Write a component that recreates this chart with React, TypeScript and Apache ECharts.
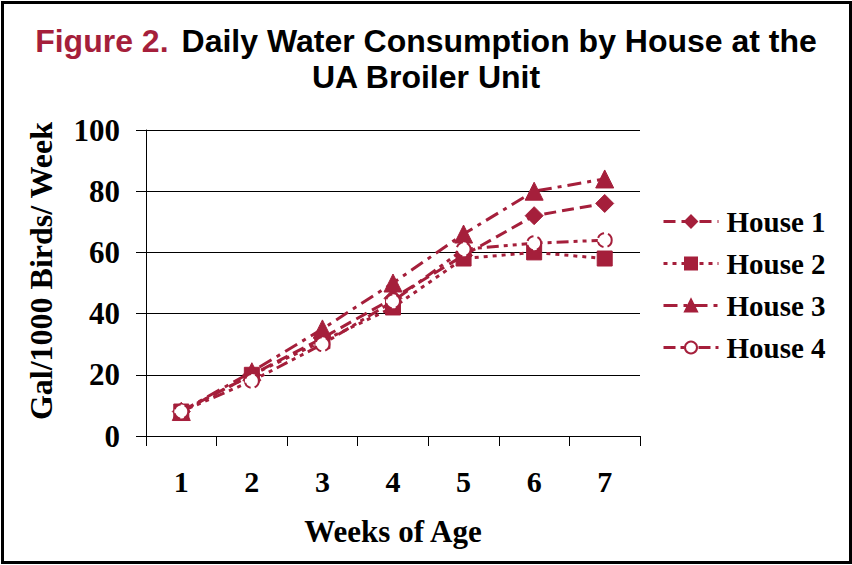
import React, { useEffect, useRef } from "react";
import * as echarts from "echarts";

const weeks = ["1", "2", "3", "4", "5", "6", "7"];
const house1 = [8, 20, 32, 45, 59, 72, 76];
const house2 = [8, 20, 31, 42, 58, 60, 58];
const house3 = [8, 21, 35, 50, 66, 80, 84];
const house4 = [8, 18, 30, 44, 61, 63, 64];
const seriesNames = ["House 1", "House 2", "House 3", "House 4"];
const titleLine1a = "Figure 2.";
const titleLine1b = "Daily Water Consumption by House at the";
const titleLine2 = "UA Broiler Unit";

const RED = "#A51F3B";
const SERIF = "'Liberation Serif', 'Times New Roman', serif";
const SANS = "'Liberation Sans', Arial, sans-serif";

export default function App() {
  const ref = useRef<HTMLDivElement>(null);
  useEffect(() => {
    if (!ref.current) return;
    const chart = echarts.init(ref.current, undefined, { renderer: "svg" });
    const mk = (name: string, data: number[], symbol: string, dash: number[], size: number, extra: any = {}) => ({
      name,
      type: "line",
      data,
      symbol,
      symbolSize: size,
      lineStyle: { color: RED, width: 3, type: dash },
      itemStyle: { color: RED, borderColor: RED, borderWidth: 1, ...extra },
    });
    chart.setOption({
      animation: false,
      backgroundColor: "#ffffff",
      title: [
        {
          text: `{a|${titleLine1a}} {b|${titleLine1b}}`,
          left: "center",
          top: 25,
          padding: 0,
          textStyle: {
            rich: {
              a: { color: RED, fontFamily: SANS, fontWeight: "bold", fontSize: 32, padding: [0, 8, 0, 0] },
              b: { color: "#000", fontFamily: SANS, fontWeight: "bold", fontSize: 32 },
            },
          },
        },
        {
          text: titleLine2,
          left: "center",
          top: 61,
          padding: 0,
          textStyle: { color: "#000", fontFamily: SANS, fontWeight: "bold", fontSize: 32 },
        },
      ],
      graphic: [
        {
          type: "rect",
          shape: { x: 2.5, y: 2.5, width: 848, height: 560 },
          style: { fill: "none", stroke: "#000", lineWidth: 3 },
          silent: true,
        },
      ],
      grid: { left: 146, top: 130, width: 494, height: 306, containLabel: false },
      legend: {
        orient: "vertical",
        left: 662,
        top: 207,
        padding: 0,
        itemWidth: 55,
        itemHeight: 15,
        itemGap: 13,
        data: seriesNames,
        lineStyle: { width: 3 },
        textStyle: { fontFamily: SERIF, fontWeight: "bold", fontSize: 29, color: "#000", padding: [0, 0, 0, 3] },
      },
      xAxis: {
        type: "category",
        data: weeks,
        boundaryGap: true,
        name: "Weeks of Age",
        nameLocation: "middle",
        nameGap: 80,
        nameTextStyle: { fontFamily: SERIF, fontWeight: "bold", fontSize: 31, color: "#000" },
        axisLine: { lineStyle: { color: "#000", width: 1 } },
        axisTick: { show: true, length: 10, alignWithLabel: false, lineStyle: { color: "#000" } },
        axisLabel: { margin: 30, fontFamily: SERIF, fontWeight: "bold", fontSize: 30, color: "#000" },
        splitLine: { show: false },
      },
      yAxis: {
        type: "value",
        min: 0,
        max: 100,
        interval: 20,
        name: "Gal/1000 Birds/ Week",
        nameLocation: "middle",
        nameGap: 89,
        nameTextStyle: { fontFamily: SERIF, fontWeight: "bold", fontSize: 32, color: "#000", padding: [0, 0, 0, 24] },
        axisLine: { show: true, lineStyle: { color: "#000", width: 1 } },
        axisTick: { show: true, length: 10, lineStyle: { color: "#000" } },
        axisLabel: { margin: 26, fontFamily: SERIF, fontWeight: "bold", fontSize: 31, color: "#000" },
        splitLine: { show: true, lineStyle: { color: "#000", width: 1 } },
      },
      series: [
        mk("House 1", house1, "diamond", [12, 6], 18),
        mk("House 2", house2, "rect", [4, 5], 15),
        mk("House 3", house3, "triangle", [14, 6, 4, 6], 18),
        mk("House 4", house4, "circle", [12, 5, 4, 5, 4, 5], 14, { color: "#fff", borderColor: RED, borderWidth: 2, borderType: "dashed" }),
      ],
    });
    return () => chart.dispose();
  }, []);
  return <div ref={ref} style={{ position: "fixed", left: 0, top: 0, width: 852, height: 565 }} />;
}
